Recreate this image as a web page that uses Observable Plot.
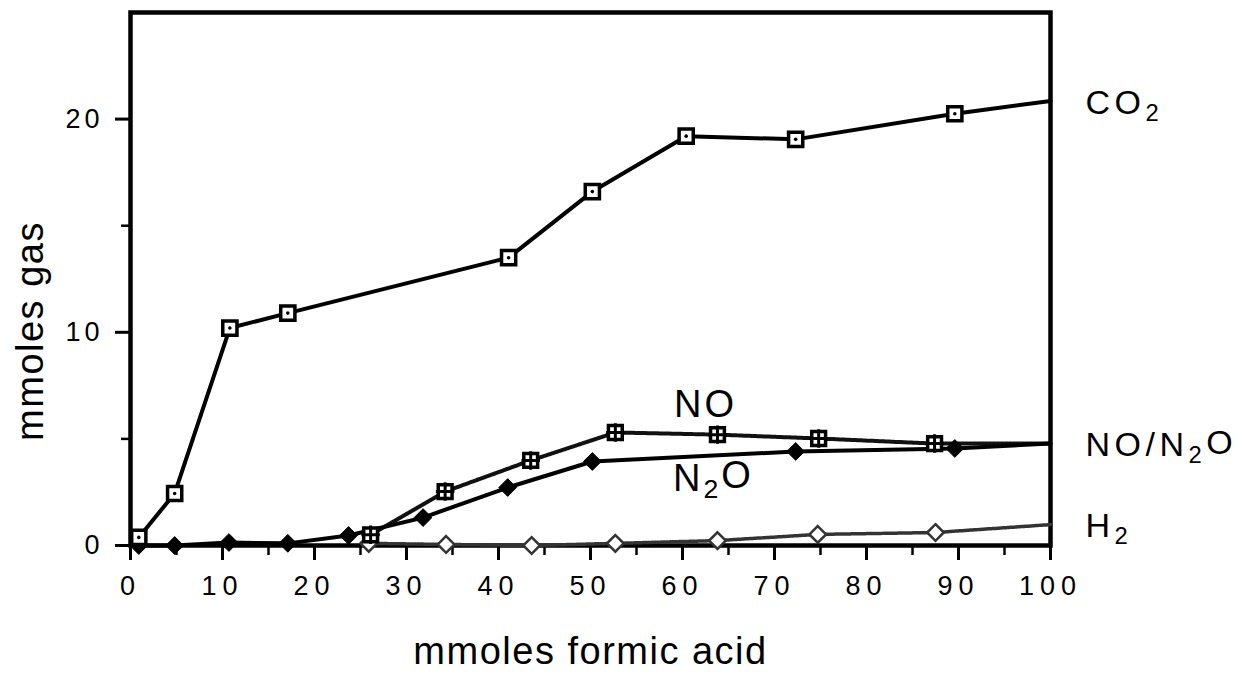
<!DOCTYPE html>
<html><head><meta charset="utf-8">
<script src="https://cdn.jsdelivr.net/npm/d3@7"></script>
<script src="https://cdn.jsdelivr.net/npm/@observablehq/plot@0.6"></script>
<style>
body{margin:0;background:#fff;}
#chart svg{display:block;background:#fff;}
g[aria-label="x-axis tick label"] text{letter-spacing:6px;}
g[aria-label="y-axis tick label"] text{letter-spacing:4px;}
</style></head><body><div id="chart"></div>
<script>
// x = mmoles formic acid, y = mmoles gas; the last entry (x = 100) of each series is where the line meets the frame (no marker)
const co2X = [0.9, 4.8, 10.8, 17.1, 41.1, 50.2, 60.4, 72.3, 89.6, 100];
const co2Y = [0.38, 2.44, 10.2, 10.9, 13.5, 16.6, 19.2, 19.05, 20.25, 20.85];
const n2oX = [0.9, 4.8, 10.7, 17.1, 23.7, 31.8, 41.0, 50.2, 72.3, 89.6, 100];
const n2oY = [0.0, 0.0, 0.14, 0.1, 0.47, 1.31, 2.72, 3.94, 4.41, 4.55, 4.78];
const noX  = [26.1, 34.2, 43.5, 52.7, 63.8, 74.8, 87.4, 100];
const noY  = [0.5, 2.53, 3.99, 5.3, 5.2, 5.02, 4.78, 4.78];
const h2X  = [25.9, 34.3, 43.6, 52.7, 63.8, 74.7, 87.5, 100];
const h2Y  = [0.1, 0.05, 0.0, 0.1, 0.23, 0.52, 0.61, 0.98];

const xMajorTicks = [0, 10, 20, 30, 40, 50, 60, 70, 80, 90, 100];
const xMinorTicks = [5, 15, 25, 35, 45, 55, 65, 75, 85, 95];
const yMajorTicks = [0, 10, 20];
const yMinorTicks = [5, 15];
const seriesLabels = ["CO₂", "NO/N₂O", "H₂"];
const inlineLabels = ["NO", "N₂O"];
const xTitle = "mmoles formic acid";
const yTitle = "mmoles gas";

const toRows = (xs, ys) => xs.map((x, i) => ({x, y: ys[i]}));
const co2 = toRows(co2X, co2Y);
const n2o = toRows(n2oX, n2oY);
const no = toRows(noX, noY);
const h2 = toRows(h2X, h2Y);
const pts = rows => rows.slice(0, -1);
const endRows = [co2, no, h2].map((r, i) => ({label: seriesLabels[i], ...r[r.length - 1]}));
const noAnchor = [no[4]];

const font = "Liberation Sans, Arial, Helvetica, sans-serif";

const chart = Plot.plot({
  width: 1238, height: 681,
  marginLeft: 130, marginRight: 188, marginTop: 12, marginBottom: 136,
  style: {fontFamily: font, color: "black", background: "white"},
  x: {domain: [0, 100]},
  y: {domain: [0, 25]},
  marks: [
    Plot.axisX(xMajorTicks, {tickSize: 15, strokeWidth: 3, fontSize: 27, tickPadding: 15, label: null}),
    Plot.axisX(xMinorTicks, {tickSize: 10, strokeWidth: 2.5, tickFormat: () => "", label: null}),
    Plot.axisY(yMajorTicks, {tickSize: 15, strokeWidth: 3, fontSize: 27, tickPadding: 12, label: null}),
    Plot.axisY(yMinorTicks, {tickSize: 9, strokeWidth: 2.5, tickFormat: () => "", label: null}),
    Plot.frame({stroke: "black", strokeWidth: 4.5}),
    // lines
    Plot.line(h2, {x: "x", y: "y", stroke: "#333", strokeWidth: 3.5, strokeDasharray: "2 1"}),
    Plot.line(no, {x: "x", y: "y", stroke: "#111", strokeWidth: 4, strokeDasharray: "3 1"}),
    Plot.line(n2o, {x: "x", y: "y", stroke: "black", strokeWidth: 4}),
    Plot.line(co2, {x: "x", y: "y", stroke: "black", strokeWidth: 4}),
    // markers
    Plot.dot(pts(h2), {x: "x", y: "y", symbol: "diamond2", r: 7.5, fill: "white", stroke: "#333", strokeWidth: 2.5}),
    Plot.dot(pts(no), {x: "x", y: "y", symbol: "square", r: 7.8, fill: "white", stroke: "black", strokeWidth: 3.5}),
    Plot.dot(pts(no), {x: "x", y: "y", symbol: "plus", r: 6, stroke: "black", strokeWidth: 3}),
    Plot.dot(pts(n2o), {x: "x", y: "y", symbol: "diamond2", r: 8, fill: "black", stroke: "black", strokeWidth: 1}),
    Plot.dot(pts(co2), {x: "x", y: "y", symbol: "square", r: 8, fill: "white", stroke: "black", strokeWidth: 3.5}),
    Plot.dot(pts(co2), {x: "x", y: "y", r: 1.8, fill: "black"}),
    // inline labels
    Plot.text(noAnchor, {x: "x", y: "y", text: () => inlineLabels[0], dx: -12, dy: -30, fontSize: 38, fill: "black"}),
    Plot.text(noAnchor, {x: "x", y: "y", text: () => inlineLabels[1], dx: -4, dy: 44, fontSize: 38, fill: "black"}),
    // right-side series labels
    Plot.text(endRows, {x: "x", y: "y", text: "label", dx: 35, dy: 2, textAnchor: "start", fontSize: 34, fill: "black"}),
    // axis titles
    Plot.text([xTitle], {frameAnchor: "bottom", textAnchor: "middle", dy: 118, fontSize: 38, fill: "black"}),
    Plot.text([yTitle], {frameAnchor: "left", textAnchor: "middle", dx: -100, dy: 52, rotate: -90, fontSize: 38, fill: "black"})
  ]
});

// letter spacing by role, then render "₂" as a real subscript 2
chart.querySelectorAll("text").forEach(t => {
  const s = t.textContent;
  if (seriesLabels.includes(s)) t.style.letterSpacing = "4.5px";
  else if (inlineLabels.includes(s)) t.style.letterSpacing = "3px";
  else if (s === xTitle || s === yTitle) t.style.letterSpacing = "1.5px";
  if (!s.includes("₂")) return;
  while (t.firstChild) t.removeChild(t.firstChild);
  const parts = s.split("₂");
  parts.forEach((p, i) => {
    if (p) {
      const a = document.createElementNS("http://www.w3.org/2000/svg", "tspan");
      if (i > 0) a.setAttribute("dy", "-0.28em");
      a.textContent = p;
      t.appendChild(a);
    }
    if (i < parts.length - 1) {
      const b = document.createElementNS("http://www.w3.org/2000/svg", "tspan");
      b.setAttribute("dy", "0.28em");
      b.setAttribute("font-size", "0.7em");
      b.textContent = "2";
      t.appendChild(b);
    }
  });
});

document.getElementById("chart").appendChild(chart);
</script></body></html>
